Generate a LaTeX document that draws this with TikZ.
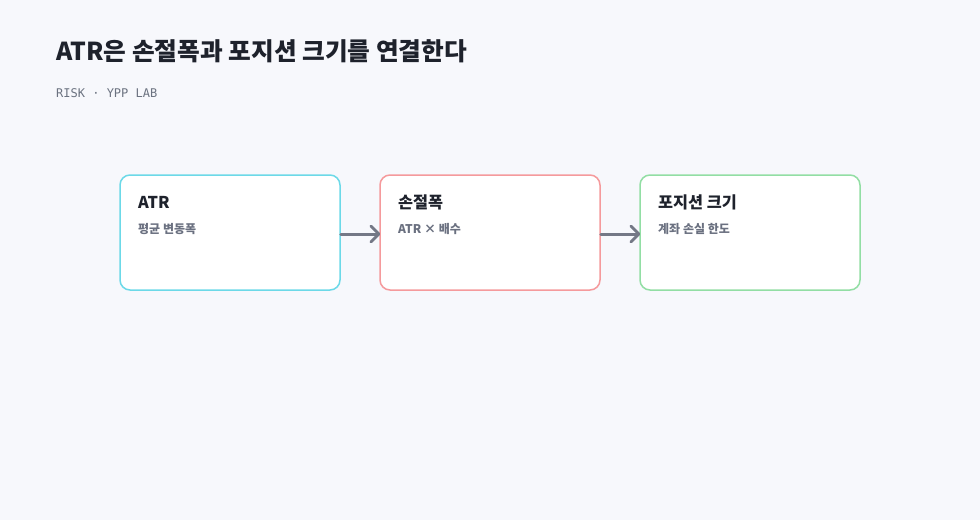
\documentclass[tikz,border=0pt]{standalone}
\usepackage{fontspec}
\setmainfont{Noto Sans CJK KR}
\newfontfamily\monof{DejaVu Sans Mono}
\usetikzlibrary{arrows.meta}
\definecolor{bgc}{HTML}{F7F8FC}
\definecolor{titlec}{HTML}{1E222C}
\definecolor{subc}{HTML}{6B7280}
\definecolor{cyanc}{HTML}{6CD9E8}
\definecolor{redc}{HTML}{F59A9C}
\definecolor{greenc}{HTML}{92DEA4}
\definecolor{arrc}{HTML}{747886}
\definecolor{smallc}{HTML}{6A7080}
\tikzset{
  card/.style={draw=#1, line width=1.5pt, fill=white, rounded corners=10pt, minimum width=220pt, minimum height=115pt, inner sep=0pt},
  cardtitle/.style={anchor=base west, inner sep=0pt, font=\fontsize{16.3}{19}\selectfont\bfseries, text=titlec},
  cardsub/.style={anchor=base west, inner sep=0pt, font=\fontsize{12}{14}\selectfont\bfseries, text=smallc},
  flow/.style={draw=arrc, line width=3pt, -{Straight Barb[length=8pt,width=16pt,line width=2.8pt,round]}, line cap=round}
}
\begin{document}
\begin{tikzpicture}[x=1pt,y=-1pt]
\useasboundingbox[fill=bgc] (0,0) rectangle (980,520);
\node[anchor=base west, inner sep=0pt, font=\fontsize{24.7}{28}\selectfont\bfseries, text=titlec] (title) at (56,60) {ATR은 손절폭과 포지션 크기를 연결한다};
\node[anchor=base west, inner sep=0pt, font=\monof\fontsize{12}{15}\selectfont, text=subc] (subtitle) at (56,97) {RISK · YPP LAB};
\node[card=cyanc] (b1) at (230,232.5) {};
\node[card=redc] (b2) at (490,232.5) {};
\node[card=greenc] (b3) at (750,232.5) {};
\node[cardtitle] (t1) at (138,208) {ATR};
\node[cardsub] (s1) at (138,233.5) {평균 변동폭};
\node[cardtitle] (t2) at (398,208) {손절폭};
\node[cardsub] (s2) at (398,233.5) {ATR × 배수};
\node[cardtitle] (t3) at (658,208) {포지션 크기};
\node[cardsub] (s3) at (658,233.5) {계좌 손실 한도};
\draw[flow] ([yshift=-1.5pt]b1.east) -- ([yshift=-1.5pt,xshift=1pt]b2.west);
\draw[flow] ([yshift=-1.5pt]b2.east) -- ([yshift=-1.5pt,xshift=1pt]b3.west);
\end{tikzpicture}
\end{document}
